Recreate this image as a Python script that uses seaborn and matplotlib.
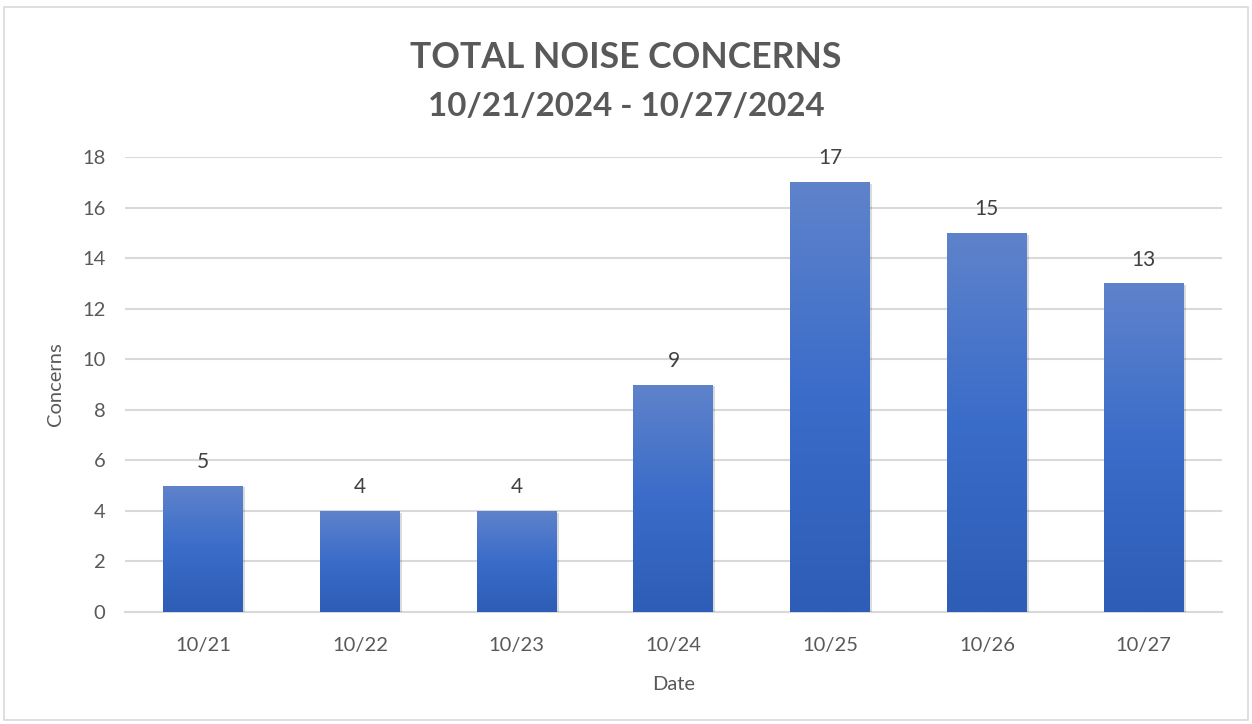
import matplotlib.pyplot as plt
import seaborn as sns
import numpy as np
import pandas as pd
from matplotlib.patches import Rectangle
import matplotlib.patheffects as pe

dates = ['10/21', '10/22', '10/23', '10/24', '10/25', '10/26', '10/27']
concerns = [5, 4, 4, 9, 17, 15, 13]

sns.set_theme(style='white')
plt.rcParams['font.family'] = ['Lato', 'DejaVu Sans']

grey = '#595959'
fig = plt.figure(figsize=(12.52, 7.24), dpi=100)
ax = fig.add_axes([0.0998, 0.1547, 0.8762, 0.6284])

df = pd.DataFrame({'Date': dates, 'Concerns': concerns})
sns.barplot(data=df, x='Date', y='Concerns', ax=ax, color='#4472C4', width=0.51,
            linewidth=0, edgecolor='none', zorder=3)

# gradient fill, lighter at the top
grad = np.linspace(0, 1, 256).reshape(-1, 1)
cmap = sns.blend_palette(['#2D5DB6', '#3A6CC9', '#5F83CB'], as_cmap=True)
for bar in ax.patches:
    x0, y0 = bar.get_x(), bar.get_y()
    w, h = bar.get_width(), bar.get_height()
    bar.set_path_effects([pe.SimplePatchShadow(offset=(1.5, -1.2), shadow_rgbFace='#000000', alpha=0.14), pe.Normal()])
    im = ax.imshow(grad, extent=[x0, x0 + w, y0, y0 + h], origin='lower', cmap=cmap,
                   aspect='auto', zorder=4)
    im.set_clip_path(bar)
    ax.text(x0 + w / 2, y0 + h + 0.55, str(int(h)), ha='center', va='bottom',
            fontsize=15, color='#404040')

ax.set_xlim(-0.5, len(dates) - 0.5)
ax.set_ylim(0, 18)
ax.set_yticks(range(0, 19, 2))
ax.yaxis.grid(True, color='#D9D9D9', linewidth=1.5, zorder=0)
ax.set_axisbelow(True)
for s in ['top', 'right', 'left']:
    ax.spines[s].set_visible(False)
ax.spines['bottom'].set_color('#D9D9D9')
ax.spines['bottom'].set_linewidth(1.5)
ax.tick_params(axis='x', length=0, labelsize=14.5, labelcolor=grey, pad=18)
ax.tick_params(axis='y', length=0, labelsize=14.5, labelcolor=grey, pad=14)
ax.set_xlabel('Date', fontsize=14.5, color=grey, labelpad=16)
ax.set_ylabel('Concerns', fontsize=14.5, color=grey, labelpad=13)

fig.text(0.5, 0.921, 'TOTAL NOISE CONCERNS', ha='center', va='center',
         fontsize=25.6, fontweight='bold', color=grey)
fig.text(0.5, 0.853, '10/21/2024 - 10/27/2024', ha='center', va='center',
         fontsize=23.8, fontweight='bold', color=grey)

fig.patches.append(Rectangle((0.003, 0.006), 0.994, 0.985, transform=fig.transFigure,
                             fill=False, edgecolor='#D9D9D9', linewidth=1.2))

fig.savefig('out.png', dpi=100)
